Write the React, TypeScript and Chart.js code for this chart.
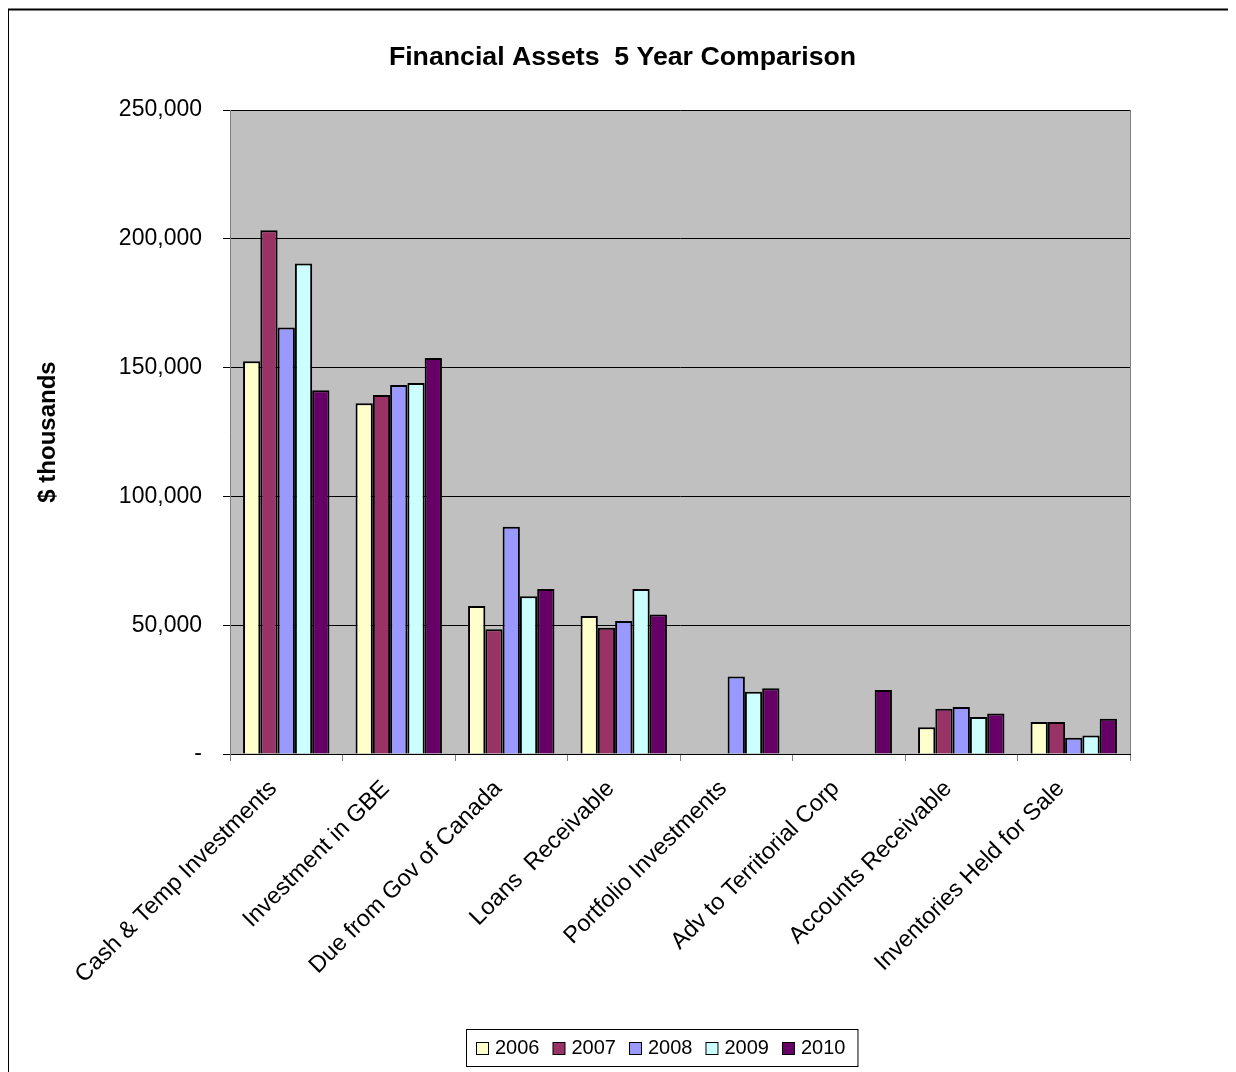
import React, { useEffect, useRef } from "react";
import { Chart, registerables } from "chart.js";

Chart.register(...registerables);

const categories = [
  "Cash & Temp Investments",
  "Investment in GBE",
  "Due from Gov of Canada",
  "Loans  Receivable",
  "Portfolio Investments",
  "Adv to Territorial Corp",
  "Accounts Receivable",
  "Inventories Held for Sale",
];
const years = ["2006", "2007", "2008", "2009", "2010"];
const values2006 = [152500, 136200, 57500, 53600, null, null, 10400, 12400];
const values2007 = [203300, 139400, 48400, 49000, null, null, 17600, 12400];
const values2008 = [165600, 143200, 88200, 51600, 30100, null, 18200, 6300];
const values2009 = [190400, 144000, 61200, 64100, 24200, null, 14400, 7200];
const values2010 = [141200, 153700, 64100, 54200, 25500, 24800, 15700, 13700];
const colors = ["#FFFFCC", "#993366", "#9999FF", "#CCFFFF", "#660066"];
const yTicks = [0, 50000, 100000, 150000, 200000, 250000];
const titleText = "Financial Assets  5 Year Comparison";

const FONT = "'Liberation Sans', Arial, sans-serif";

const plotBg = {
  id: "plotBg",
  beforeDraw(chart: any) {
    const { ctx, chartArea: a } = chart;
    ctx.save();
    ctx.fillStyle = "#C0C0C0";
    ctx.fillRect(a.left, a.top, a.right - a.left, a.bottom - a.top);
    ctx.restore();
  },
  afterDraw(chart: any) {
    const { ctx, chartArea: a, width, height } = chart;
    ctx.save();
    // right border of plot
    ctx.strokeStyle = "#808080";
    ctx.lineWidth = 1;
    ctx.beginPath();
    ctx.moveTo(a.right + 0.5, a.top);
    ctx.lineTo(a.right + 0.5, a.bottom);
    ctx.stroke();
    // outer border
    ctx.strokeStyle = "#000";
    ctx.lineWidth = 2;
    ctx.beginPath();
    ctx.moveTo(0, height + 2);
    ctx.lineTo(0, 1.5);
    ctx.lineTo(width - 1, 1.5);
    ctx.stroke();
    ctx.strokeStyle = "#B0B0B0";
    ctx.lineWidth = 1;
    ctx.beginPath();
    ctx.moveTo(width - 0.5, 1);
    ctx.lineTo(width - 0.5, height);
    ctx.stroke();

    // title
    ctx.fillStyle = "#000";
    ctx.font = `bold 26.7px ${FONT}`;
    ctx.textAlign = "center";
    ctx.textBaseline = "alphabetic";
    ctx.fillText(titleText, 614.5, 56.5);

    // legend
    const ds = chart.data.datasets;
    ctx.font = `20px ${FONT}`;
    ctx.textBaseline = "middle";
    const sq = 12, gap = 7, spacing = 13, pad = 10;
    const widths = ds.map((d: any) => ctx.measureText(d.label).width);
    const total =
      widths.reduce((s: number, w: number) => s + sq + gap + w, 0) +
      spacing * (ds.length - 1);
    const boxW = total + pad * 2 + 2;
    const boxH = 37;
    const cx = 653.5;
    const boxL = Math.round(cx - boxW / 2);
    const boxT = 1021;
    ctx.strokeStyle = "#000";
    ctx.lineWidth = 1;
    ctx.strokeRect(boxL + 0.5, boxT + 0.5, boxW, boxH);
    let x = boxL + pad;
    const cy = boxT + boxH / 2 + 0.5;
    ds.forEach((d: any, i: number) => {
      ctx.fillStyle = d.backgroundColor;
      ctx.fillRect(x + 0.5, cy - sq / 2 + 0.5, sq, sq);
      ctx.strokeRect(x + 0.5, cy - sq / 2 + 0.5, sq, sq);
      ctx.fillStyle = "#000";
      ctx.textAlign = "left";
      ctx.fillText(d.label, x + sq + gap, cy);
      x += sq + gap + widths[i] + spacing;
    });
    ctx.restore();
  },
};

export default function App() {
  const ref = useRef<HTMLCanvasElement>(null);
  useEffect(() => {
    if (!ref.current) return;
    const series = [values2006, values2007, values2008, values2009, values2010];
    const chart = new Chart(ref.current, {
      type: "bar",
      data: {
        labels: categories,
        datasets: years.map((y, i) => ({
          label: y,
          data: series[i],
          backgroundColor: colors[i],
          borderColor: "#000",
          borderWidth: 2,
          categoryPercentage: 0.768,
          barPercentage: 1,
        })),
      },
      options: {
        animation: false,
        responsive: false,
        maintainAspectRatio: false,
        layout: { padding: { left: 0, right: 106, top: 102, bottom: 0 } },
        plugins: {
          legend: { display: false },
          tooltip: { enabled: false },
          title: { display: false },
        },
        scales: {
          x: {
            afterFit: (s: any) => {
              s.height = 318;
            },
            grid: {
              display: true,
              drawOnChartArea: false,
              drawTicks: true,
              tickLength: 7,
              color: "#808080",
              offset: true,
            },
            border: { color: "#000", width: 1 },
            ticks: {
              minRotation: 45,
              maxRotation: 45,
              autoSkip: false,
              color: "#000",
              padding: 14,
              labelOffset: -13,
              font: { family: FONT, size: 23.5 },
            },
          },
          y: {
            min: 0,
            max: 250000,
            afterFit: (s: any) => {
              s.width = 222;
            },
            afterBuildTicks: (s: any) => {
              s.ticks = yTicks.map((v) => ({ value: v }));
            },
            grid: {
              color: "#000",
              lineWidth: 1,
              drawTicks: true,
              tickLength: 7,
            },
            border: { color: "#808080", width: 1 },
            ticks: {
              color: "#000",
              padding: 21,
              font: { family: FONT, size: 23 },
              callback: (v: any) =>
                Number(v) === 0 ? "-" : Number(v).toLocaleString("en-US"),
            },
            title: {
              display: true,
              text: "$ thousands",
              color: "#000",
              font: { family: FONT, size: 24, weight: "bold" },
              padding: { top: 26, bottom: 0 },
            },
          },
        },
      },
      plugins: [plotBg],
    });
    return () => chart.destroy();
  }, []);
  return (
    <canvas
      ref={ref}
      width={1228}
      height={1064}
      style={{ display: "block", width: 1228, height: 1064 }}
    />
  );
}
